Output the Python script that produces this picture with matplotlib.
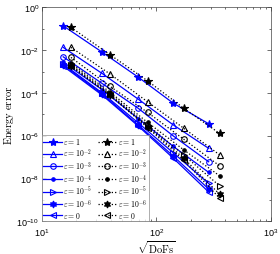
import numpy as np
import matplotlib
matplotlib.use("Agg")
import matplotlib.pyplot as plt
from matplotlib.ticker import LogLocator, LogFormatterSciNotation, NullFormatter

plt.rcParams['font.family'] = ['Liberation Sans', 'DejaVu Sans']
plt.rcParams['mathtext.fontset'] = 'cm'

# sqrt(DoFs) for the two discretisations
x_blue = [15.4, 33.6, 69.4, 140, 286]
x_black = [18.0, 39.5, 83.7, 172.6, 355.6]

labels = [r'$\varepsilon = 1$', r'$\varepsilon = 10^{-2}$', r'$\varepsilon = 10^{-3}$',
          r'$\varepsilon = 10^{-4}$', r'$\varepsilon = 10^{-5}$', r'$\varepsilon = 10^{-6}$',
          r'$\varepsilon = 0$']
markers = ['*', '^', 'o', '.', '>', (6, 1, 0), '<']
filled = [True, False, False, True, False, True, False]

# log10 of energy error
log_blue = [
    [-0.861, -2.092, -3.262, -4.478, -5.447],
    [-1.872, -3.088, -4.291, -5.494, -6.598],
    [-2.312, -3.557, -4.720, -6.009, -7.225],
    [-2.56, -3.85, -5.20, -6.50, -7.72],
    [-2.65, -4.00, -5.40, -6.80, -8.24],
    [-2.70, -4.05, -5.50, -6.95, -8.50],
    [-2.75, -4.10, -5.55, -7.05, -8.64],
]
log_black = [
    [-0.936, -2.218, -3.435, -4.712, -5.896],
    [-1.872, -3.120, -4.417, -5.648, -6.898],
    [-2.340, -3.697, -4.913, -6.163, -7.412],
    [-2.60, -3.97, -5.38, -6.66, -7.88],
    [-2.68, -4.05, -5.50, -6.90, -8.35],
    [-2.72, -4.10, -5.58, -7.05, -8.74],
    [-2.75, -4.12, -5.62, -7.15, -8.92],
]

sizes = {'*': 6, '.': 5}

fig = plt.figure(figsize=(2.8, 2.55), dpi=100)
ax = fig.add_axes([0.149, 0.129, 0.819, 0.838])

for i in range(7):
    fc = 'blue' if filled[i] else 'none'
    ms = sizes.get(markers[i], 4) if isinstance(markers[i], str) else 5
    ax.plot(x_blue, 10 ** np.array(log_blue[i]), '-', color='blue', lw=0.9,
            marker=markers[i], ms=ms, mfc=fc, mec='blue', mew=0.8, label=labels[i])
for i in range(7):
    fc = 'black' if filled[i] else 'none'
    ms = sizes.get(markers[i], 4) if isinstance(markers[i], str) else 5
    ax.plot(x_black, 10 ** np.array(log_black[i]), ':', color='black', lw=0.9,
            marker=markers[i], ms=ms, mfc=fc, mec='black', mew=0.8, label=labels[i])

ax.set_xscale('log')
ax.set_yscale('log')
ax.set_xlim(10, 1000)
ax.set_ylim(1e-10, 1)
ax.yaxis.set_major_locator(LogLocator(base=100))
ax.yaxis.set_major_formatter(LogFormatterSciNotation())
ax.yaxis.set_minor_locator(LogLocator(base=10, subs=[1.0], numticks=20))
ax.yaxis.set_minor_formatter(NullFormatter())
ax.tick_params(which='both', direction='in', top=True, right=True, labelsize=6.5,
               color='#333333', width=0.5, pad=2)
ax.tick_params(axis='x', pad=4)
ax.tick_params(which='major', length=3)
ax.tick_params(which='minor', length=1.5)
for s in ax.spines.values():
    s.set_linewidth(0.5)
    s.set_color('#444444')

ax.set_xlabel(r'$\sqrt{\mathrm{DoFs}}$', fontsize=7.5, labelpad=0)
ax.set_ylabel(r'$\mathrm{Energy\ error}$', fontsize=7.5, labelpad=0)

leg = ax.legend(ncol=2, loc='lower left', fontsize=5.6, frameon=True, fancybox=False,
                edgecolor='#888888', handlelength=2.4, handletextpad=0.2,
                columnspacing=0.6, labelspacing=0.0, borderpad=0.2,
                borderaxespad=0.0)
leg.get_frame().set_linewidth(0.6)

fig.savefig('out.png', dpi=100)
